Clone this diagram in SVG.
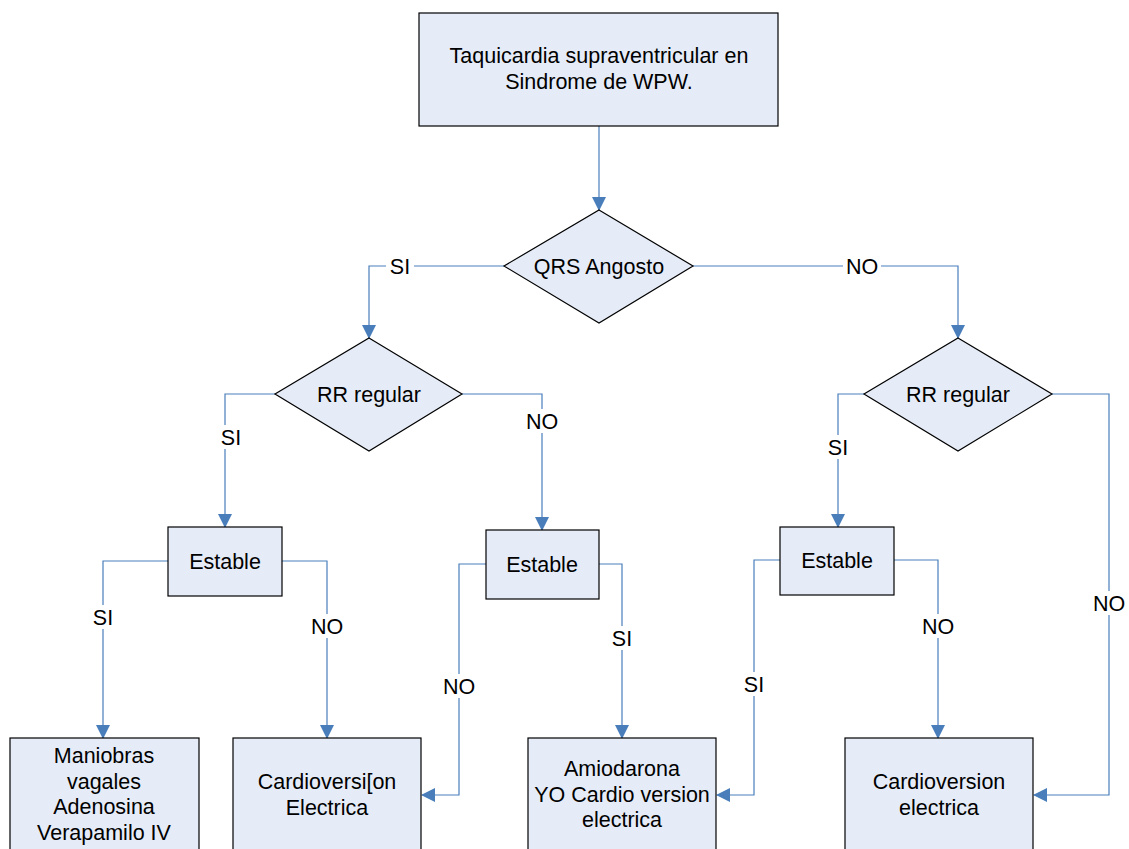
<svg xmlns="http://www.w3.org/2000/svg" width="1129" height="849" viewBox="0 0 1129 849">
<style>
.n{fill:#E6ECF7;stroke:#000;stroke-width:1.2}
.t{font-family:"Liberation Sans",Arial,sans-serif;font-size:21.5px;fill:#000;text-anchor:middle}
.c{fill:none;stroke:#4A7EBB;stroke-width:1.2}
.lb{fill:#fff}
</style>
<defs>
<marker id="a" markerUnits="userSpaceOnUse" markerWidth="14" markerHeight="14" viewBox="0 0 14 14" refX="13" refY="7" orient="auto">
<path d="M0,0 L14,7 L0,14 Z" fill="#4A7EBB"/>
</marker>
</defs>
<rect width="1129" height="849" fill="#fff"/>
<g id="connectors">
<path class="c" d="M599,126 V210" marker-end="url(#a)"/>
<path class="c" d="M504,266 H369 V338" marker-end="url(#a)"/>
<path class="c" d="M693,266 H958 V338" marker-end="url(#a)"/>
<path class="c" d="M275,394 H225 V527" marker-end="url(#a)"/>
<path class="c" d="M462,394 H542 V530" marker-end="url(#a)"/>
<path class="c" d="M864,394 H838 V527" marker-end="url(#a)"/>
<path class="c" d="M1052,394 H1109 V795 H1034" marker-end="url(#a)"/>
<path class="c" d="M168,561 H103 V738" marker-end="url(#a)"/>
<path class="c" d="M282,561 H327 V738" marker-end="url(#a)"/>
<path class="c" d="M486,564 H459 V795 H422" marker-end="url(#a)"/>
<path class="c" d="M599,564 H622 V738" marker-end="url(#a)"/>
<path class="c" d="M780,560 H754 V795 H717" marker-end="url(#a)"/>
<path class="c" d="M894,560 H938 V738" marker-end="url(#a)"/>
<g id="labels">
<rect class="lb" x="386" y="254" width="28" height="24"/><text class="t" x="400" y="274">SI</text>
<rect class="lb" x="843" y="254" width="38" height="24"/><text class="t" x="862" y="274">NO</text>
<rect class="lb" x="217" y="425" width="28" height="24"/><text class="t" x="231" y="445">SI</text>
<rect class="lb" x="523" y="409" width="38" height="24"/><text class="t" x="542" y="429">NO</text>
<rect class="lb" x="824" y="435" width="28" height="24"/><text class="t" x="838" y="455">SI</text>
<rect class="lb" x="1090" y="591" width="38" height="24"/><text class="t" x="1109" y="611">NO</text>
<rect class="lb" x="89" y="605" width="28" height="24"/><text class="t" x="103" y="625">SI</text>
<rect class="lb" x="308" y="614" width="38" height="24"/><text class="t" x="327" y="634">NO</text>
<rect class="lb" x="440" y="674" width="38" height="24"/><text class="t" x="459" y="694">NO</text>
<rect class="lb" x="608" y="626" width="28" height="24"/><text class="t" x="622" y="646">SI</text>
<rect class="lb" x="740" y="672" width="28" height="24"/><text class="t" x="754" y="692">SI</text>
<rect class="lb" x="919" y="614" width="38" height="24"/><text class="t" x="938" y="634">NO</text>
</g>
</g>
<g id="start">
<rect class="n" x="419" y="13" width="359" height="113"/>
<text class="t" x="599" y="63">Taquicardia supraventricular en</text>
<text class="t" x="599" y="89">Sindrome de WPW.</text>
</g>
<g id="qrs">
<polygon class="n" points="599,210 693,266 599,323 504,266"/>
<text class="t" x="599" y="274">QRS Angosto</text>
</g>
<g id="rr1">
<polygon class="n" points="369,338 462,394 369,451 275,394"/>
<text class="t" x="369" y="402">RR regular</text>
</g>
<g id="rr2">
<polygon class="n" points="958,338 1052,394 958,451 864,394"/>
<text class="t" x="958" y="402">RR regular</text>
</g>
<g id="est1">
<rect class="n" x="168" y="527" width="114" height="69"/>
<text class="t" x="225" y="569">Estable</text>
</g>
<g id="est2">
<rect class="n" x="486" y="530" width="113" height="69"/>
<text class="t" x="542" y="572">Estable</text>
</g>
<g id="est3">
<rect class="n" x="780" y="527" width="114" height="68"/>
<text class="t" x="837" y="568">Estable</text>
</g>
<g id="box1">
<rect class="n" x="10" y="738" width="189" height="125"/>
<text class="t" x="104" y="763">Maniobras</text>
<text class="t" x="104" y="789">vagales</text>
<text class="t" x="104" y="814">Adenosina</text>
<text class="t" x="104" y="840">Verapamilo IV</text>
</g>
<g id="box2">
<rect class="n" x="233" y="738" width="188" height="125"/>
<text class="t" x="327" y="789">Cardioversi[on</text>
<text class="t" x="327" y="815">Electrica</text>
</g>
<g id="box3">
<rect class="n" x="528" y="738" width="188" height="125"/>
<text class="t" x="622" y="776">Amiodarona</text>
<text class="t" x="622" y="802">YO Cardio version</text>
<text class="t" x="622" y="827">electrica</text>
</g>
<g id="box4">
<rect class="n" x="845" y="738" width="188" height="125"/>
<text class="t" x="939" y="789">Cardioversion</text>
<text class="t" x="939" y="815">electrica</text>
</g>
</svg>
